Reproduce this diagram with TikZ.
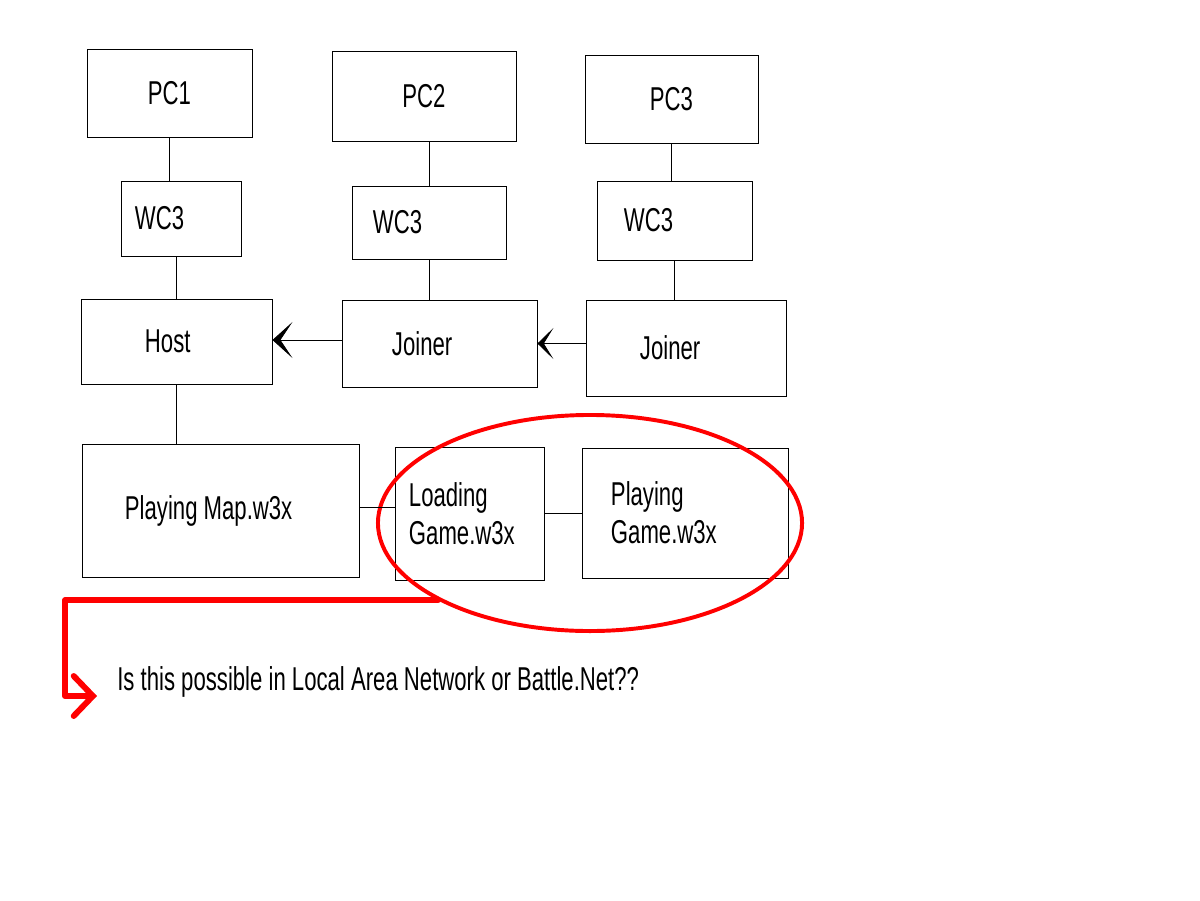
\documentclass[tikz,border=0pt]{standalone}
\usepackage{fontspec}
\setmainfont[FakeStretch=0.67]{Liberation Sans}
\usetikzlibrary{shapes.geometric, arrows.meta}
\tikzstyle{boxnode} = [rectangle, 
draw=black, 
line width=0.6pt,
inner ysep=0pt,
font=\fontsize{23.5}{27}\selectfont]
\tikzstyle{arrow} = [line width=0.6pt, -{Stealth[length=0.5cm, width=0.9cm, inset=0.3cm]}]
\tikzstyle{redarrow} = [draw=red, line width=4.2pt, line cap=round, line join=round,
-{Straight Barb[length=0.48cm, width=1cm, line cap=round]}]

\begin{document}
\begin{tikzpicture}[x=0.025cm, y=-0.025cm]
\useasboundingbox (0,0) rectangle (1200,900);

% top row
\node (pcone) [boxnode, minimum width=4.125cm, minimum height=2.2cm] at (169.5,93) {PC1};
\node (pctwo) [boxnode, minimum width=4.6cm, minimum height=2.25cm] at (424,96) {PC2};
\node (pcthree) [boxnode, minimum width=4.325cm, minimum height=2.2cm] at (671.5,99) {PC3};

\node (wcone) [boxnode, inner xsep=0.35cm, text width=2.3cm, minimum height=1.875cm] at (181,218.5) {WC3};
\node (wctwo) [boxnode, inner xsep=0.525cm, text width=2.8cm, minimum height=1.825cm] at (429,222.5) {WC3};
\node (wcthree) [boxnode, inner xsep=0.675cm, text width=2.525cm, minimum height=1.975cm] at (674.5,220.5) {WC3};

\node (host) [boxnode, inner xsep=1.6cm, text width=1.575cm, minimum height=2.125cm] at (176.5,341.5) {Host};
\node (joinone) [boxnode, inner xsep=1.25cm, text width=2.375cm, minimum height=2.175cm] at (439.5,343.5) {Joiner};
\node (jointwo) [boxnode, inner xsep=1.35cm, text width=2.3cm, minimum height=2.4cm] at (686,348) {Joiner};

% bottom row
\node (playmap) [boxnode, inner xsep=1.075cm, text width=4.775cm, minimum height=3.325cm] at (220.5,510.5) {\spaceskip=0pt Playing Map.w3x};
\node (loading) [boxnode, inner xsep=0.35cm, text width=3.025cm, minimum height=3.325cm] at (469.5,513.5) {Loading\\Game.w3x};
\node (playgame) [boxnode, inner xsep=0.725cm, text width=3.7cm, minimum height=3.25cm] at (685,513) {Playing\\Game.w3x};

\node (ring) [ellipse, draw=red, line width=2.8pt, minimum width=10.6cm, minimum height=5.4cm] at (590,523) {};

\node (question) [anchor=base west, inner sep=0pt, font=\fontsize{23.5}{27}\selectfont] at (117,690) {Is this possible in Local Area Network or Battle.Net??};

\coordinate (bend) at (65,601);
\coordinate (tip) at (97,696);

\draw [line width=0.6pt] (pcone.south) -- (pcone.south |- wcone.north);
\draw [line width=0.6pt] (wcone.south -| host.north) -- (host.north);
\draw [line width=0.6pt] (wctwo.north) -- (wctwo.north |- pctwo.south);
\draw [line width=0.6pt] (wctwo.south) -- (wctwo.south |- joinone.north);
\draw [line width=0.6pt] (pcthree.south) -- (pcthree.south |- wcthree.north);
\draw [line width=0.6pt] (wcthree.south) -- (wcthree.south |- jointwo.north);
\draw [line width=0.6pt] (host.south) -- (host.south |- playmap.north);

\draw [arrow] (joinone.west |- 0,340) -- (host.east |- 0,340);
\draw [arrow, -{Stealth[length=0.4cm, width=0.78cm, inset=0.24cm]}] (jointwo.west |- joinone) -- (joinone);

\draw [line width=0.6pt] (playmap.east |- 0,507) -- (loading.west |- 0,507);
\draw [line width=0.6pt] (loading.east) -- (loading.east -| playgame.west);

\draw [redarrow] (ring.207) -- (ring.207 -| bend) -- (bend) -- (bend |- tip) -- (tip);

\end{tikzpicture}
\end{document}
